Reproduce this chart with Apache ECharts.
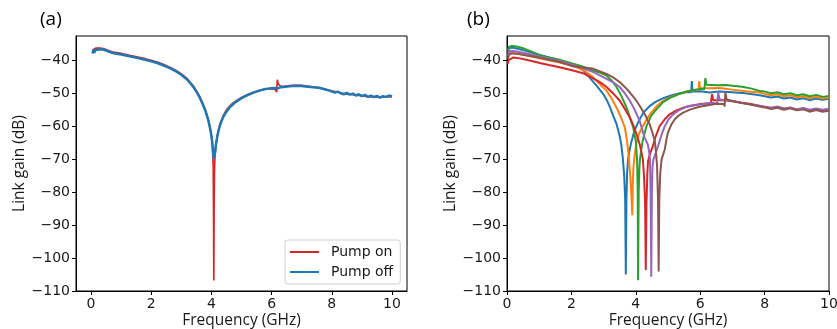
<!DOCTYPE html>
<html>
<head>
<meta charset="utf-8">
<script src="https://cdn.jsdelivr.net/npm/echarts@6/dist/echarts.min.js"></script>
<style>
html,body{margin:0;padding:0;background:#fff;}
#chart{width:837px;height:329px;}
</style>
</head>
<body>
<div id="chart"></div>
<script>
// ---------- Data (frequency GHz, link gain dB) ----------
const xTicks = [0, 2, 4, 6, 8, 10];
const yTicks = [-110, -100, -90, -80, -70, -60, -50, -40];
const panelLabels = ['(a)', '(b)'];
const legendNames = ['Pump on', 'Pump off'];
const colorsB = ['#1f77b4', '#ff7f0e', '#2ca02c', '#d62728', '#9467bd', '#8c564b'];

// Panel (a)
const pumpOn = [[0.05,-36.8],[0.1,-36.4],[0.15,-36.2],[0.2,-36.2],[0.3,-36.2],[0.4,-36.3],[0.5,-36.6],[0.6,-37.0],[0.7,-37.3],[0.8,-37.5],[1.0,-37.8],[1.2,-38.2],[1.4,-38.6],[1.6,-39.0],[1.8,-39.4],[2.0,-39.9],[2.2,-40.4],[2.4,-41.1],[2.6,-41.9],[2.8,-42.8],[3.0,-44.0],[3.2,-45.5],[3.4,-47.7],[3.5,-49.1],[3.6,-50.7],[3.7,-52.7],[3.8,-55.0],[3.9,-58.0],[3.95,-60.2],[4.0,-62.8],[4.03,-65.5],[4.06,-72],[4.07,-85],[4.08,-106.8],[4.09,-84],[4.1,-74],[4.12,-68.5],[4.15,-65.8],[4.2,-62.6],[4.25,-60.5],[4.3,-58.9],[4.4,-56.6],[4.5,-55.0],[4.6,-53.9],[4.7,-53.0],[4.8,-52.3],[5.0,-51.2],[5.2,-50.3],[5.4,-49.6],[5.6,-49.0],[5.8,-48.6],[6.0,-48.5],[6.1,-48.6],[6.17,-49.5],[6.19,-45.8],[6.22,-47.0],[6.25,-47.6],[6.3,-47.8],[6.4,-47.8],[6.6,-47.6],[6.8,-47.5],[7.0,-47.5],[7.2,-47.7],[7.4,-48.0],[7.6,-48.2],[7.8,-48.7],[8.0,-49.2],[8.2,-49.6],[8.4,-50.1],[8.6,-50.2],[8.8,-50.5],[9.0,-50.6],[9.2,-50.9],[9.4,-51.0],[9.6,-51.1],[9.8,-51.0],[10.0,-50.9]];
const pumpOff = [[0.05,-37.8],[0.08,-36.6],[0.1,-37.6],[0.15,-36.8],[0.2,-36.6],[0.3,-36.5],[0.4,-36.6],[0.5,-36.9],[0.6,-37.3],[0.7,-37.6],[0.8,-37.8],[1.0,-38.1],[1.2,-38.5],[1.4,-38.9],[1.6,-39.3],[1.8,-39.7],[2.0,-40.2],[2.2,-40.7],[2.4,-41.4],[2.6,-42.2],[2.8,-43.1],[3.0,-44.3],[3.2,-45.8],[3.4,-48.0],[3.5,-49.4],[3.6,-51.0],[3.7,-53.0],[3.8,-55.2],[3.9,-58.2],[3.95,-60.3],[4.0,-62.8],[4.03,-65.0],[4.06,-68.0],[4.08,-69.8],[4.1,-70.0],[4.12,-68.0],[4.15,-65.5],[4.2,-62.8],[4.25,-60.8],[4.3,-59.2],[4.4,-57.0],[4.5,-55.5],[4.6,-54.3],[4.7,-53.4],[4.8,-52.6],[5.0,-51.4],[5.2,-50.5],[5.4,-49.7],[5.6,-49.1],[5.8,-48.6],[6.0,-48.4],[6.1,-48.3],[6.2,-48.4],[6.3,-48.1],[6.4,-48.0],[6.6,-47.8],[6.8,-47.6],[7.0,-47.7],[7.2,-47.9],[7.4,-48.1],[7.6,-48.3],[7.8,-48.8],[8.0,-49.3],[8.1,-49.7],[8.2,-49.4],[8.3,-49.9],[8.4,-50.2],[8.5,-49.8],[8.6,-50.3],[8.7,-50.0],[8.8,-50.6],[8.9,-50.2],[9.0,-50.8],[9.1,-50.4],[9.2,-51.0],[9.3,-50.6],[9.4,-51.1],[9.5,-50.7],[9.6,-51.2],[9.7,-50.8],[9.8,-51.0],[9.9,-50.6],[10.0,-50.9]];

// Panel (b)
const blueB = [[0.03,-37.5],[0.06,-36.3],[0.15,-36.0],[0.3,-36.3],[0.5,-36.8],[0.8,-37.6],[1.0,-38.2],[1.3,-39.0],[1.6,-39.8],[2.0,-41.0],[2.2,-41.9],[2.4,-43.2],[2.6,-45.5],[2.8,-47.8],[3.0,-50.3],[3.1,-52.0],[3.2,-54.2],[3.3,-56.8],[3.4,-59.2],[3.5,-63.0],[3.55,-65.5],[3.6,-70.0],[3.64,-75],[3.67,-82],[3.69,-105],[3.71,-82],[3.73,-74],[3.76,-70],[3.8,-67.5],[3.86,-64.8],[3.95,-61.5],[4.05,-59.2],[4.12,-57.8],[4.25,-55.6],[4.43,-53.8],[4.6,-52.6],[4.85,-51.4],[5.1,-50.6],[5.36,-49.9],[5.6,-49.5],[5.72,-49.6],[5.74,-46.2],[5.76,-49.4],[5.8,-49.7],[6.0,-49.3],[6.3,-49.7],[6.6,-49.4],[7.0,-49.6],[7.4,-49.9],[7.85,-50.5],[8.0,-50.8],[8.2,-51.2],[8.4,-50.9],[8.6,-51.5],[8.8,-51.2],[9.0,-51.8],[9.2,-51.4],[9.4,-52.0],[9.6,-51.5],[9.8,-51.9],[10.0,-51.6]];
const orangeB = [[0.03,-38.5],[0.06,-37.8],[0.15,-37.6],[0.3,-37.8],[0.5,-38.2],[0.8,-38.8],[1.0,-39.3],[1.3,-39.9],[1.6,-40.5],[2.0,-41.5],[2.2,-42.2],[2.4,-43.0],[2.67,-45.0],[2.9,-47.3],[3.09,-49.1],[3.25,-51.5],[3.4,-54.2],[3.55,-57.5],[3.66,-60.3],[3.73,-64.5],[3.78,-69],[3.82,-74],[3.86,-80],[3.89,-87],[3.91,-76],[3.93,-72],[3.97,-68.5],[4.02,-65],[4.1,-62.2],[4.22,-59.9],[4.35,-57.6],[4.48,-55.8],[4.65,-53.8],[4.85,-52.2],[5.1,-51.0],[5.35,-50.1],[5.6,-49.4],[5.8,-49.0],[5.95,-48.9],[5.97,-46.2],[5.99,-48.3],[6.05,-48.6],[6.3,-48.4],[6.6,-48.3],[7.0,-48.8],[7.4,-49.3],[7.85,-49.7],[8.0,-50.1],[8.2,-50.5],[8.4,-50.2],[8.6,-50.8],[8.8,-50.5],[9.0,-51.1],[9.2,-50.8],[9.4,-51.4],[9.6,-51.0],[9.8,-51.5],[10.0,-51.2]];
const greenB = [[0.03,-36.8],[0.06,-35.8],[0.15,-35.5],[0.3,-35.7],[0.5,-36.2],[0.8,-37.4],[1.02,-38.4],[1.3,-39.0],[1.6,-39.6],[2.05,-40.9],[2.3,-41.6],[2.67,-43.0],[2.9,-43.7],[3.09,-44.5],[3.25,-46.0],[3.4,-48.0],[3.55,-50.7],[3.71,-54.2],[3.82,-57.3],[3.92,-60.3],[4.0,-64.5],[4.04,-70],[4.06,-80],[4.07,-106.7],[4.09,-80],[4.11,-73],[4.13,-70],[4.17,-67],[4.22,-64],[4.33,-59.9],[4.48,-56.7],[4.64,-54.8],[4.85,-52.6],[5.05,-51.4],[5.3,-50.3],[5.6,-49.3],[5.8,-48.9],[6.0,-48.6],[6.13,-48.6],[6.15,-49.2],[6.16,-45.3],[6.19,-47.3],[6.25,-47.6],[6.5,-47.5],[6.8,-47.4],[7.0,-47.6],[7.3,-47.9],[7.6,-48.5],[7.85,-49.2],[8.0,-49.4],[8.2,-49.9],[8.4,-49.6],[8.6,-50.2],[8.8,-49.9],[9.0,-50.5],[9.2,-50.2],[9.4,-50.8],[9.6,-50.4],[9.8,-51.0],[10.0,-50.7]];
const redB = [[0.02,-41.0],[0.05,-39.8],[0.1,-39.2],[0.2,-39.0],[0.4,-39.3],[0.6,-39.7],[0.8,-40.2],[1.02,-40.7],[1.3,-41.3],[1.6,-41.9],[2.05,-43.0],[2.36,-43.8],[2.67,-45.4],[2.9,-46.6],[3.09,-48.0],[3.3,-50.0],[3.5,-52.1],[3.65,-54.5],[3.81,-57.2],[3.92,-59.6],[4.02,-62.3],[4.12,-65.4],[4.18,-68],[4.22,-70],[4.26,-76],[4.29,-84],[4.31,-103.6],[4.33,-84],[4.36,-74],[4.38,-70.5],[4.45,-68],[4.53,-66],[4.6,-63.5],[4.74,-59.9],[4.9,-57.8],[5.05,-56.3],[5.25,-55.2],[5.47,-54.3],[5.7,-53.7],[5.98,-53.2],[6.2,-53.0],[6.33,-53.0],[6.35,-53.6],[6.37,-50.2],[6.4,-52.0],[6.45,-52.3],[6.8,-52.0],[7.0,-52.3],[7.3,-52.8],[7.6,-53.2],[7.85,-53.8],[8.0,-54.0],[8.2,-54.4],[8.4,-54.1],[8.6,-54.6],[8.8,-54.3],[9.0,-54.9],[9.2,-54.5],[9.4,-55.2],[9.6,-54.8],[9.8,-55.3],[10.0,-55.0]];
const purpleB = [[0.03,-38.5],[0.06,-37.3],[0.15,-37.0],[0.3,-37.2],[0.5,-37.6],[0.8,-38.2],[1.02,-38.8],[1.3,-39.4],[1.6,-40.0],[2.05,-41.3],[2.36,-42.3],[2.67,-43.4],[3.09,-45.5],[3.3,-46.6],[3.5,-48.0],[3.65,-49.8],[3.81,-52.1],[3.97,-55.0],[4.12,-58.3],[4.27,-63.3],[4.37,-65.4],[4.42,-68],[4.44,-70],[4.46,-80],[4.48,-105.7],[4.5,-80],[4.52,-72],[4.55,-70],[4.62,-68],[4.69,-66],[4.8,-62.5],[4.9,-59.9],[5.02,-57.8],[5.16,-56.3],[5.35,-55.0],[5.57,-54.0],[5.8,-53.6],[6.0,-53.3],[6.19,-53.0],[6.4,-52.8],[6.52,-53.2],[6.54,-53.8],[6.56,-49.8],[6.6,-51.7],[6.7,-52.0],[6.9,-52.1],[7.1,-52.4],[7.3,-52.9],[7.6,-53.3],[7.85,-53.7],[8.0,-54.1],[8.2,-54.3],[8.4,-53.9],[8.6,-54.5],[8.8,-54.2],[9.0,-54.8],[9.2,-54.4],[9.4,-54.9],[9.6,-54.5],[9.8,-54.9],[10.0,-54.6]];
const brownB = [[0.03,-39.5],[0.06,-38.2],[0.15,-37.8],[0.3,-37.9],[0.5,-38.2],[0.8,-38.7],[1.02,-39.1],[1.3,-39.7],[1.6,-40.3],[2.05,-41.7],[2.36,-42.1],[2.67,-42.4],[3.09,-44.0],[3.3,-45.1],[3.5,-46.5],[3.65,-47.9],[3.81,-49.6],[3.97,-51.5],[4.12,-53.7],[4.28,-56.3],[4.43,-59.3],[4.52,-62],[4.59,-64.4],[4.63,-68],[4.66,-72],[4.69,-82],[4.71,-104.1],[4.73,-82],[4.76,-74],[4.8,-70],[4.85,-68.5],[4.9,-67],[4.95,-64],[5.0,-61.8],[5.1,-59.5],[5.21,-57.8],[5.34,-56.6],[5.47,-55.8],[5.7,-54.8],[5.98,-54.0],[6.2,-53.6],[6.5,-53.1],[6.74,-53.2],[6.76,-53.9],[6.78,-49.6],[6.82,-51.8],[6.9,-52.0],[7.1,-52.5],[7.3,-52.9],[7.6,-53.4],[7.85,-53.9],[8.0,-54.2],[8.2,-54.7],[8.4,-54.3],[8.6,-54.9],[8.8,-54.5],[9.0,-55.1],[9.2,-54.8],[9.4,-55.5],[9.6,-55.0],[9.8,-55.5],[10.0,-55.2]];
const seriesB = [blueB, orangeB, greenB, redB, purpleB, brownB];

// ---------- Chart ----------
const tickFont = {fontFamily: 'DejaVu Sans', fontSize: 14, color: '#1a1a1a'};
const nameFont = {fontFamily: 'Open Sans', fontSize: 15.5, color: '#1a1a1a'};
const fmt = v => (v < 0 ? '\u2212' : '') + Math.abs(v);

function xAxis(gi, min, max) {
  return {
    type: 'value', gridIndex: gi, min: min, max: max,
    name: 'Frequency (GHz)', nameLocation: 'middle', nameGap: 22, nameMoveOverlap: false, nameTextStyle: nameFont,
    axisLine: {show: true, onZero: false, lineStyle: {color: '#000', width: 1}},
    axisTick: {show: true, length: 4, customValues: xTicks, lineStyle: {color: '#000'}},
    axisLabel: Object.assign({customValues: xTicks, margin: 6, formatter: fmt}, tickFont),
    splitLine: {show: false}
  };
}
function yAxis(gi) {
  return {
    type: 'value', gridIndex: gi, min: -110, max: -32.5,
    name: 'Link gain (dB)', nameLocation: 'middle', nameRotate: 90, nameGap: 48, nameMoveOverlap: false, nameTextStyle: nameFont,
    axisLine: {show: true, onZero: false, lineStyle: {color: '#000', width: 1}},
    axisTick: {show: true, length: 4, customValues: yTicks, lineStyle: {color: '#000'}},
    axisLabel: Object.assign({customValues: yTicks, margin: 6, formatter: fmt}, tickFont),
    splitLine: {show: false}
  };
}

const series = [
  {name: legendNames[0], type: 'line', xAxisIndex: 0, yAxisIndex: 0, data: pumpOn, symbol: 'none', color: '#d62728', lineStyle: {width: 1.7}},
  {name: legendNames[1], type: 'line', xAxisIndex: 0, yAxisIndex: 0, data: pumpOff, symbol: 'none', color: '#1f77b4', lineStyle: {width: 2.5}}
];
seriesB.forEach((d, i) => {
  series.push({type: 'line', xAxisIndex: 1, yAxisIndex: 1, data: d, symbol: 'none', color: colorsB[i], lineStyle: {width: 2}});
});

const chart = echarts.init(document.getElementById('chart'), null, {renderer: 'canvas'});
chart.setOption({
  animation: false,
  backgroundColor: '#fff',
  grid: [
    {left: 76, top: 36, width: 331, height: 255, show: true, borderColor: '#000', borderWidth: 1, backgroundColor: 'transparent', outerBoundsMode: 'none', containLabel: false},
    {left: 507, top: 36, width: 322, height: 255, show: true, borderColor: '#000', borderWidth: 1, backgroundColor: 'transparent', outerBoundsMode: 'none', containLabel: false}
  ],
  xAxis: [xAxis(0, -0.5, 10.5), xAxis(1, 0, 10)],
  yAxis: [yAxis(0), yAxis(1)],
  legend: {
    data: legendNames.map(n => ({name: n, icon: 'rect'})),
    orient: 'vertical', left: 285, top: 240,
    itemWidth: 29, itemHeight: 2, itemGap: 6,
    padding: [5, 7, 5, 5],
    backgroundColor: '#fff', borderColor: '#d0d0d0', borderWidth: 1, borderRadius: 3,
    textStyle: {fontFamily: 'DejaVu Sans', fontSize: 14, color: '#1a1a1a', padding: [0, 0, 0, 7]}
  },
  graphic: [
    {type: 'text', left: 40, top: 10, style: {text: panelLabels[0], font: '19px "Open Sans"', fill: '#000'}},
    {type: 'text', left: 467, top: 10, style: {text: panelLabels[1], font: '19px "Open Sans"', fill: '#000'}}
  ],
  series: series
});
</script>
</body>
</html>
